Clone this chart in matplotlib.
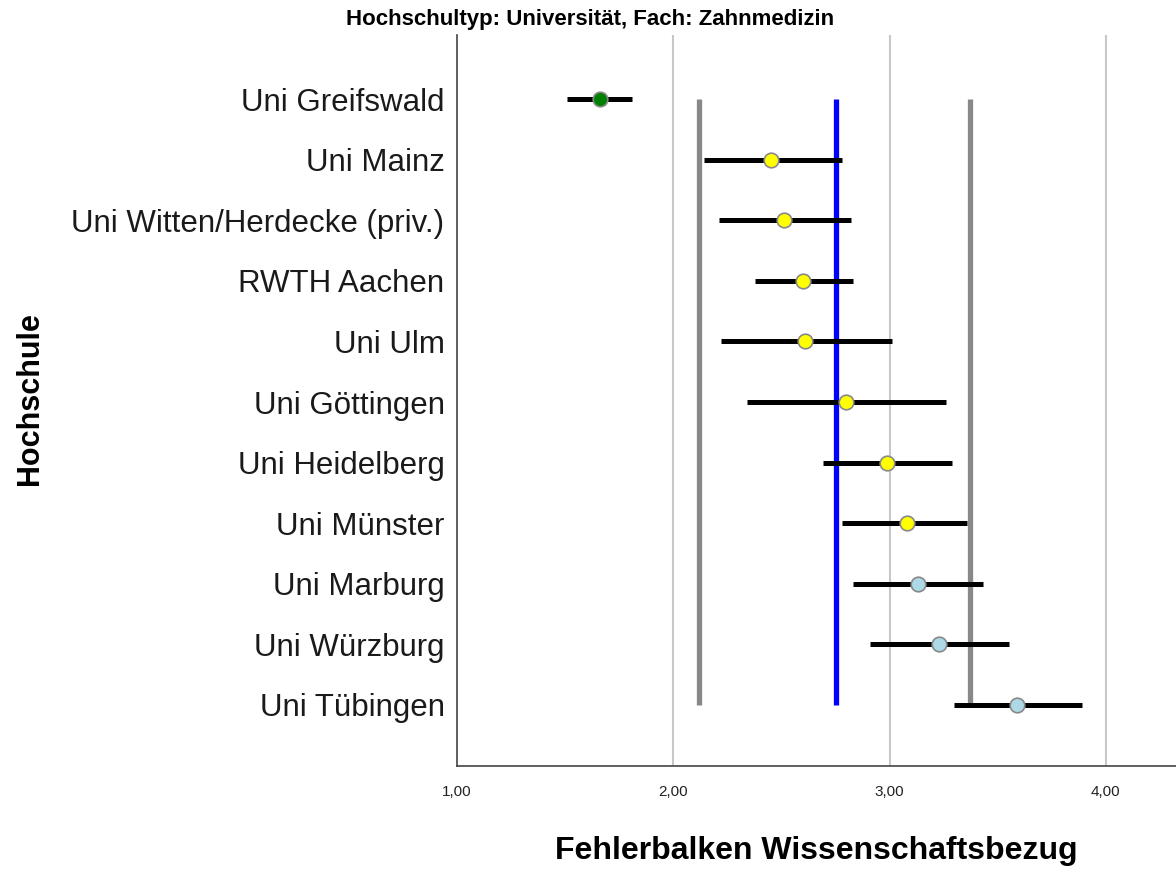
import matplotlib
matplotlib.use("Agg")
import matplotlib.pyplot as plt

plt.rcParams['font.family'] = ['Liberation Sans', 'DejaVu Sans']

schools = ["Uni Greifswald", "Uni Mainz", "Uni Witten/Herdecke (priv.)", "RWTH Aachen",
           "Uni Ulm", "Uni Göttingen", "Uni Heidelberg", "Uni Münster", "Uni Marburg",
           "Uni Würzburg", "Uni Tübingen"]
means = [1.66, 2.45, 2.51, 2.60, 2.61, 2.80, 2.99, 3.08, 3.13, 3.23, 3.59]
lower = [1.51, 2.14, 2.21, 2.38, 2.22, 2.34, 2.69, 2.78, 2.83, 2.91, 3.30]
upper = [1.81, 2.78, 2.82, 2.83, 3.01, 3.26, 3.29, 3.36, 3.43, 3.55, 3.89]
colors = ["#008000", "#FFFF00", "#FFFF00", "#FFFF00", "#FFFF00", "#FFFF00", "#FFFF00",
          "#FFFF00", "#ADD8E6", "#ADD8E6", "#ADD8E6"]
ref_lower = 2.12
ref_mean = 2.75
ref_upper = 3.37
xticks = [1.0, 2.0, 3.0, 4.0]
xticklabels = ["1,00", "2,00", "3,00", "4,00"]

fig = plt.figure(figsize=(11.76, 8.69), dpi=100)
ax = fig.add_axes([457/1176, 103/869, 1 - 457/1176, (766-35)/869])

ypos = list(range(len(schools)))

for x in xticks[1:]:
    ax.axvline(x, color="#c8c8c8", lw=1.5, zorder=0)

ax.vlines([ref_lower, ref_upper], ypos[0], ypos[-1], color="#888888", lw=3.8, zorder=1)
ax.vlines([ref_mean], ypos[0], ypos[-1], color="#0000FF", lw=3.8, zorder=1)

ax.hlines(ypos, lower, upper, color="black", lw=3.6, zorder=2)
for y, m, c in zip(ypos, means, colors):
    ax.plot(m, y, "o", ms=10.5, mfc=c, mec="#888888", mew=1.2, zorder=3)

ax.set_xlim(1.0, 1.0 + (1176 - 457) / 216.3)
ax.set_ylim(11.01, -1.06)
ax.set_xticks(xticks)
ax.set_xticklabels(xticklabels, fontsize=11, color="#222222")
ax.set_yticks(ypos)
ax.set_yticklabels(schools, fontsize=22.5, color="#1a1a1a")
ax.tick_params(axis="x", length=0, pad=14)
ax.tick_params(axis="y", length=0, pad=9)

for s in ["top", "right"]:
    ax.spines[s].set_visible(False)
for s in ["left", "bottom"]:
    ax.spines[s].set_color("#444444")
    ax.spines[s].set_linewidth(1.2)

ax.set_xlabel("Fehlerbalken Wissenschaftsbezug", fontsize=23, fontweight="bold", labelpad=26)
fig.text(30/1176, 1 - 399/869, "Hochschule", rotation=90, fontsize=22, fontweight="bold",
         ha="center", va="center")
fig.text(590/1176, 1 - 19/869, "Hochschultyp: Universität, Fach: Zahnmedizin",
         fontsize=16, fontweight="bold", ha="center", va="center")

fig.savefig("out.png", dpi=100)
